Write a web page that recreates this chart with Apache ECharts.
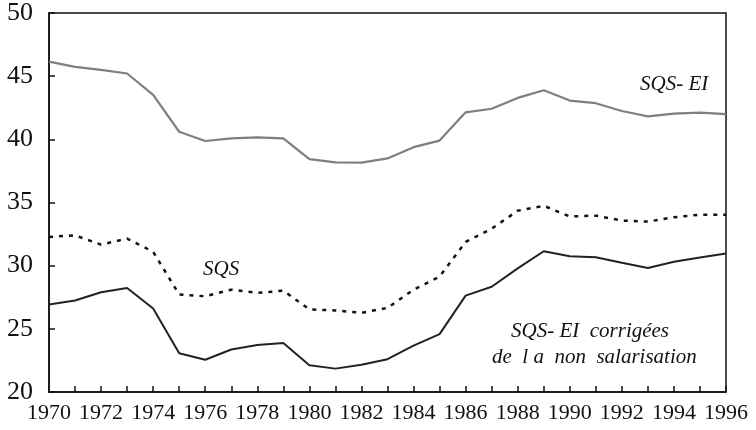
<!DOCTYPE html>
<html>
<head>
<meta charset="utf-8">
<script src="https://cdn.jsdelivr.net/npm/echarts@6/dist/echarts.min.js"></script>
<style>
  html, body { margin: 0; padding: 0; background: #fff; }
  #chart { width: 756px; height: 430px; }
</style>
</head>
<body>
<div id="chart"></div>
<script>
const years = []
for (let y = 1970; y <= 1996; y++) years.push(String(y))

// SQS-EI (gris)
const sqsEi = [46.15, 45.73, 45.5, 45.21, 43.52, 40.6, 39.87, 40.08, 40.16, 40.08,
  38.44, 38.18, 38.15, 38.49, 39.38, 39.9, 42.14, 42.42, 43.28, 43.88,
  43.07, 42.86, 42.24, 41.82, 42.03, 42.11, 42.0]
// SQS (pointillés)
const sqs = [32.27, 32.4, 31.67, 32.14, 31.1, 27.71, 27.58, 28.1, 27.84, 28.02,
  26.54, 26.46, 26.27, 26.66, 28.1, 29.14, 31.88, 32.92, 34.35, 34.74,
  33.9, 33.96, 33.57, 33.49, 33.83, 34.04, 34.04]
// SQS-EI corrigées de la non salarisation
const sqsEiCorr = [26.93, 27.24, 27.89, 28.23, 26.61, 23.07, 22.55, 23.36, 23.72, 23.88,
  22.11, 21.85, 22.16, 22.6, 23.67, 24.58, 27.63, 28.33, 29.79, 31.14,
  30.75, 30.67, 30.23, 29.82, 30.31, 30.65, 30.96]

const serif = '"Liberation Serif", "DejaVu Serif", serif'

const chart = echarts.init(document.getElementById('chart'))
const option = {
  animation: false,
  grid: {
    left: 49, right: 30, top: 8, bottom: 38,
    show: true, borderColor: '#111', borderWidth: 1.5
  },
  xAxis: {
    type: 'category',
    data: years,
    boundaryGap: false,
    axisLine: { lineStyle: { color: '#111', width: 1.5 } },
    axisTick: { inside: true, length: 6, interval: 0, lineStyle: { color: '#111', width: 1.5 } },
    axisLabel: { interval: 1, color: '#111', fontFamily: serif, fontSize: 22, margin: 10 },
    splitLine: { show: false }
  },
  yAxis: {
    type: 'value',
    min: 20, max: 50, interval: 5,
    axisLine: { show: true, lineStyle: { color: '#111', width: 1.5 } },
    axisTick: { show: true, inside: true, length: 6, lineStyle: { color: '#111', width: 1.5 } },
    axisLabel: { color: '#111', fontFamily: serif, fontSize: 26, margin: 16 },
    splitLine: { show: false }
  },
  series: [
    {
      name: 'SQS-EI', type: 'line', data: sqsEi, symbol: 'none',
      lineStyle: { color: '#7f7f7f', width: 2.2 }
    },
    {
      name: 'SQS', type: 'line', data: sqs, symbol: 'none',
      lineStyle: { color: '#111', width: 2.5, type: [4, 6] }
    },
    {
      name: 'SQS-EI corrigées', type: 'line', data: sqsEiCorr, symbol: 'none',
      lineStyle: { color: '#222', width: 2 }
    }
  ],
  graphic: [
    { type: 'text', left: 640, top: 74,
      style: { text: 'SQS- EI', font: 'italic 21px ' + serif, fill: '#111' } },
    { type: 'text', left: 203, top: 259,
      style: { text: 'SQS', font: 'italic 21px ' + serif, fill: '#111' } },
    { type: 'text', left: 511, top: 321,
      style: { text: 'SQS- EI  corrigées', font: 'italic 21px ' + serif, fill: '#111' } },
    { type: 'text', left: 492, top: 347,
      style: { text: 'de  l a  non  salarisation', font: 'italic 21px ' + serif, fill: '#111' } }
  ]
}
option && chart.setOption(option)
</script>
</body>
</html>
